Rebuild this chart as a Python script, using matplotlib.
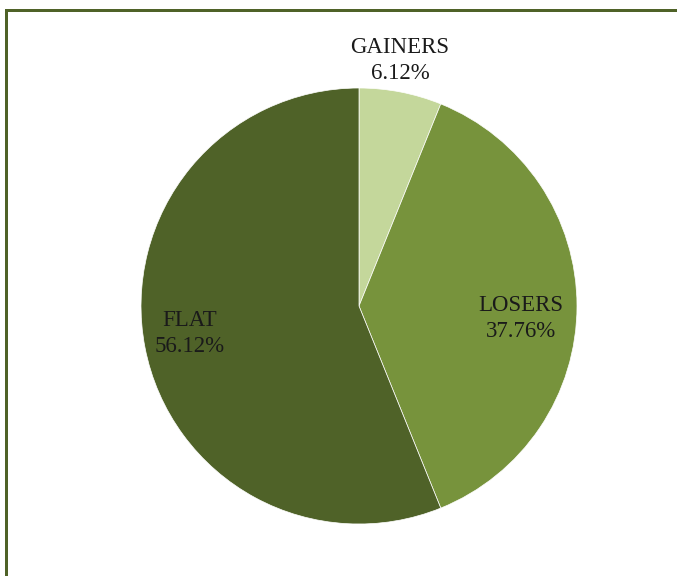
import numpy as np
import matplotlib
matplotlib.use("Agg")
import matplotlib.pyplot as plt
from matplotlib.lines import Line2D

categories = ["GAINERS", "LOSERS", "FLAT"]
values = [6.12, 37.76, 56.12]
colors = ["#C4D79B", "#77933C", "#4F6228"]
label_dist = [1.14, 0.745, 0.785]
label_offset_deg = [1.5, -4.3, -1.9]

W, H = 677, 576
fig = plt.figure(figsize=(W / 100, H / 100), dpi=100)
cx, cy, r = 359, 306, 218
ax = fig.add_axes([(cx - r) / W, (H - cy - r) / H, 2 * r / W, 2 * r / H])
wedges, _ = ax.pie(values, colors=colors, startangle=90, counterclock=False,
                   radius=1.0, wedgeprops=dict(edgecolor="white", linewidth=0.5))
ax.set_xlim(-1, 1)
ax.set_ylim(-1, 1)
ax.set_aspect("equal")
ax.axis("off")

for w, name, v, d, off in zip(wedges, categories, values, label_dist, label_offset_deg):
    ang = np.deg2rad((w.theta1 + w.theta2) / 2 + off)
    ax.text(d * np.cos(ang), d * np.sin(ang), f"{name}\n{v:.2f}%",
            ha="center", va="center", fontsize=16.5, family="Liberation Serif",
            color="#1a1a1a", linespacing=1.32)

lw = 3 * 72 / 100
x0 = 6 / W
y0 = 1 - 9.5 / H
fig.add_artist(Line2D([x0, x0, 1.0], [0.0, y0, y0], transform=fig.transFigure,
                      color="#4F6228", linewidth=lw, solid_joinstyle="miter"))

fig.savefig("out.png", dpi=100)
